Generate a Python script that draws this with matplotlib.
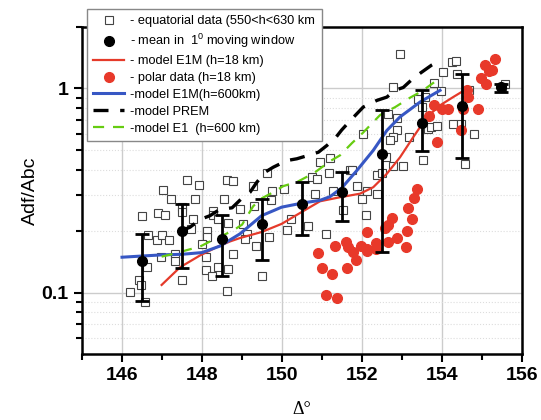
import matplotlib
matplotlib.use('Agg')
import matplotlib.pyplot as plt
from matplotlib.lines import Line2D
from matplotlib.ticker import FixedLocator, NullFormatter, FixedFormatter

plt.rcParams['font.family'] = ['Liberation Sans', 'DejaVu Sans']
plt.rcParams['mathtext.fontset'] = 'custom'
plt.rcParams['mathtext.rm'] = 'Liberation Sans'
plt.rcParams['mathtext.it'] = 'Liberation Sans'

# equatorial data (550<h<630 km)
eq_x = [146.20, 146.43, 146.47, 146.58, 146.49, 146.66, 146.62, 146.87, 146.91, 147.08,
        146.99, 147.18, 147.03, 147.23, 146.97, 147.33, 147.33, 147.49, 147.62, 147.93,
        147.83, 147.78, 147.49, 147.49, 148.12, 148.13, 147.99, 148.10, 148.10, 148.28,
        148.28, 148.41, 148.41, 148.56, 148.64, 148.66, 148.62, 148.26, 147.73, 148.62,
        148.78, 148.78, 149.03, 149.13, 149.30, 149.35, 149.49, 149.68, 149.74, 149.62,
        149.27, 149.72, 150.12, 150.23, 150.05, 150.66, 149.08, 148.95, 150.74, 150.87,
        150.95, 151.20, 151.28, 151.52, 151.10, 151.70, 150.83, 151.18, 152.95, 154.24,
        154.35, 154.02, 154.38, 153.81, 153.98, 152.78, 153.41, 153.58, 152.64, 152.88,
        152.88, 152.78, 152.70, 153.18, 153.66, 153.72, 153.87, 154.27, 154.47, 154.58,
        153.53, 152.60, 152.77, 153.03, 152.37, 152.49, 152.37, 151.74, 151.87, 152.12,
        152.03, 151.99, 152.09, 153.49, 154.68, 154.81, 155.58, 155.49]
eq_y = [0.101, 0.115, 0.109, 0.090, 0.236, 0.192, 0.134, 0.181, 0.245, 0.239,
        0.192, 0.181, 0.319, 0.288, 0.150, 0.155, 0.143, 0.115, 0.354, 0.337,
        0.288, 0.228, 0.262, 0.248, 0.201, 0.187, 0.172, 0.149, 0.129, 0.252,
        0.239, 0.228, 0.134, 0.287, 0.220, 0.131, 0.354, 0.121, 0.205, 0.102,
        0.155, 0.351, 0.217, 0.194, 0.264, 0.169, 0.121, 0.188, 0.314, 0.384,
        0.331, 0.285, 0.203, 0.229, 0.322, 0.213, 0.183, 0.257, 0.370, 0.361,
        0.435, 0.457, 0.316, 0.254, 0.194, 0.397, 0.305, 0.384, 1.47, 1.34,
        1.36, 1.20, 1.17, 1.06, 0.97, 1.01, 0.883, 0.906, 0.746, 0.718,
        0.627, 0.577, 0.556, 0.577, 0.634, 0.647, 0.654, 0.671, 0.671, 0.424,
        0.444, 0.461, 0.419, 0.419, 0.375, 0.384, 0.305, 0.397, 0.331, 0.316,
        0.600, 0.288, 0.240, 0.810, 0.985, 0.600, 1.05, 1.01]

# polar data (h=18 km)
pol_x = [150.91, 151.01, 151.24, 151.10, 151.38, 151.33, 151.59, 151.66, 151.78, 151.84,
         151.62, 151.97, 152.12, 152.13, 152.12, 152.35, 152.35, 152.58, 152.64, 152.76,
         152.64, 152.87, 153.10, 153.13, 153.14, 153.24, 153.31, 153.37, 153.87, 153.80,
         153.68, 153.99, 154.16, 154.47, 154.52, 154.62, 154.66, 154.91, 154.97, 155.10,
         155.08, 155.18, 155.24, 155.33]
pol_y = [0.156, 0.132, 0.124, 0.097, 0.094, 0.170, 0.176, 0.167, 0.158, 0.145,
         0.132, 0.169, 0.199, 0.164, 0.160, 0.175, 0.164, 0.207, 0.215, 0.232,
         0.176, 0.185, 0.168, 0.200, 0.260, 0.228, 0.291, 0.322, 0.546, 0.826,
         0.729, 0.792, 0.795, 0.622, 0.795, 0.978, 0.906, 0.795, 1.13, 1.05,
         1.30, 1.22, 1.23, 1.39]

# mean in 1 degree moving window with its spread
mean_x = [146.49, 147.49, 148.49, 149.49, 150.49, 151.49, 152.49, 153.49, 154.49, 155.47]
mean_y = [0.142, 0.201, 0.182, 0.216, 0.270, 0.310, 0.475, 0.676, 0.819, 1.01]
mean_lo = [0.091, 0.132, 0.121, 0.145, 0.192, 0.225, 0.158, 0.493, 0.457, 0.96]
mean_hi = [0.193, 0.272, 0.241, 0.286, 0.347, 0.389, 0.786, 0.978, 1.18, 1.05]

# model E1M (h=18 km)
e1m18_x = [146.99, 147.45, 147.95, 148.37, 148.70, 148.95, 149.49, 149.99, 150.49, 150.95,
           151.45, 151.95, 152.28, 152.62, 152.95, 153.28, 153.62, 153.95, 154.28, 154.60]
e1m18_y = [0.109, 0.133, 0.152, 0.167, 0.178, 0.185, 0.198, 0.217, 0.248, 0.280,
           0.293, 0.305, 0.328, 0.382, 0.460, 0.577, 0.723, 0.826, 0.907, 0.990]

# model E1M (h=600 km)
e1m600_x = [146.0, 146.5, 147.0, 147.5, 148.0, 148.45, 148.95, 149.49, 149.99, 150.49,
            150.95, 151.20, 151.49, 151.87, 152.28, 152.62, 152.95, 153.45, 153.95]
e1m600_y = [0.149, 0.151, 0.153, 0.154, 0.157, 0.169, 0.194, 0.238, 0.262, 0.274,
            0.283, 0.295, 0.325, 0.396, 0.497, 0.622, 0.725, 0.857, 0.978]

# model PREM
prem_x = [147.49, 147.70, 147.95, 148.20, 148.45, 148.75, 149.00, 149.20, 149.37, 149.58,
          149.78, 150.12, 150.37, 150.66, 150.91, 151.12, 151.33, 151.49, 151.66, 151.87,
          152.03, 152.37, 152.62, 152.82, 153.03, 153.28, 153.49, 153.74, 153.95]
prem_y = [0.201, 0.209, 0.228, 0.238, 0.256, 0.260, 0.290, 0.310, 0.347, 0.389,
          0.411, 0.443, 0.452, 0.470, 0.487, 0.525, 0.570, 0.625, 0.680, 0.751,
          0.810, 0.873, 0.906, 0.978, 1.01, 1.12, 1.20, 1.30, 1.37]

# model E1 (h=600 km)
e1_x = [146.99, 147.30, 147.70, 147.95, 148.20, 148.45, 148.75, 149.00, 149.28, 149.50,
        149.78, 150.03, 150.40, 150.80, 151.20, 151.45, 151.75, 152.00, 152.45, 152.83,
        153.20, 153.50, 153.80]
e1_y = [0.150, 0.155, 0.163, 0.168, 0.178, 0.188, 0.200, 0.215, 0.265, 0.290,
        0.310, 0.332, 0.350, 0.385, 0.440, 0.470, 0.540, 0.600, 0.740, 0.810,
        0.900, 0.970, 1.07]

fig = plt.figure(figsize=(5.41, 4.2), dpi=100)
ax = fig.add_axes([0.1516, 0.157, 0.8134, 0.779])

sq, = ax.plot(eq_x, eq_y, 's', ms=6, mfc='white', mec='#444444', mew=0.8, ls='none', zorder=2)
pol, = ax.plot(pol_x, pol_y, 'o', ms=7, color='#e8392a', ls='none', zorder=3)
red, = ax.plot(e1m18_x, e1m18_y, color='#e53a2a', lw=1.6, zorder=4)
blue, = ax.plot(e1m600_x, e1m600_y, color='#3757c4', lw=2.2, zorder=4)
prem, = ax.plot(prem_x, prem_y, color='black', lw=2.4, dashes=(4.5, 3.5), zorder=4)
green, = ax.plot(e1_x, e1_y, color='#66cc11', lw=1.6, dashes=(5, 4), zorder=4)

err = [[m - lo for m, lo in zip(mean_y, mean_lo)], [hi - m for m, hi in zip(mean_y, mean_hi)]]
ax.errorbar(mean_x, mean_y, yerr=err, fmt='o', color='black', ms=7, lw=2,
            capsize=5, capthick=2, zorder=5)
dot = Line2D([], [], marker='o', color='black', ms=7, ls='none')

ax.set_yscale('log')
ax.set_xlim(145, 156)
ax.set_ylim(0.05, 2)

ax.xaxis.set_major_locator(FixedLocator([146, 148, 150, 152, 154, 156]))
ax.xaxis.set_minor_locator(FixedLocator([145, 147, 149, 151, 153, 155]))
ax.yaxis.set_major_locator(FixedLocator([0.1, 1]))
ax.yaxis.set_major_formatter(FixedFormatter(['0.1', '1']))
ax.yaxis.set_minor_locator(FixedLocator([0.06, 0.07, 0.08, 0.09, 0.2, 0.3, 0.4, 0.5,
                                         0.6, 0.7, 0.8, 0.9, 2]))
ax.yaxis.set_minor_formatter(NullFormatter())

ax.grid(True, which='major', color='#cccccc', lw=1, zorder=0)
ax.grid(True, which='minor', axis='y', color='#dddddd', lw=0.8, ls=':', zorder=0)
ax.set_axisbelow(True)

ax.tick_params(which='both', direction='out', width=1.5, top=False, right=False)
ax.tick_params(which='major', length=6, labelsize=14)
ax.tick_params(which='minor', length=4)
for lab in ax.get_xticklabels() + ax.get_yticklabels():
    lab.set_fontweight('bold')
for sp in ax.spines.values():
    sp.set_linewidth(1.8)

ax.set_ylabel('Adf/Abc', fontsize=14, labelpad=2)
ax.set_xlabel('Δ°', fontsize=13, family='Liberation Serif', labelpad=12)

leg = ax.legend([sq, dot, red, pol, blue, prem, green],
                ['- equatorial data (550<h<630 km',
                 '- mean in  1$^0$ moving window',
                 '- model E1M (h=18 km)',
                 '- polar data (h=18 km)',
                 '-model E1M(h=600km)',
                 '-model PREM',
                 '-model E1  (h=600 km)'],
                loc='upper left', bbox_to_anchor=(0.011, 1.055), borderaxespad=0,
                fontsize=9.2, labelspacing=0.38, handlelength=2.4, handletextpad=0.5,
                fancybox=False, framealpha=1, edgecolor='#888888', borderpad=0.5)
leg.get_frame().set_linewidth(1)
leg.set_zorder(10)

fig.savefig('out.png', dpi=100)
